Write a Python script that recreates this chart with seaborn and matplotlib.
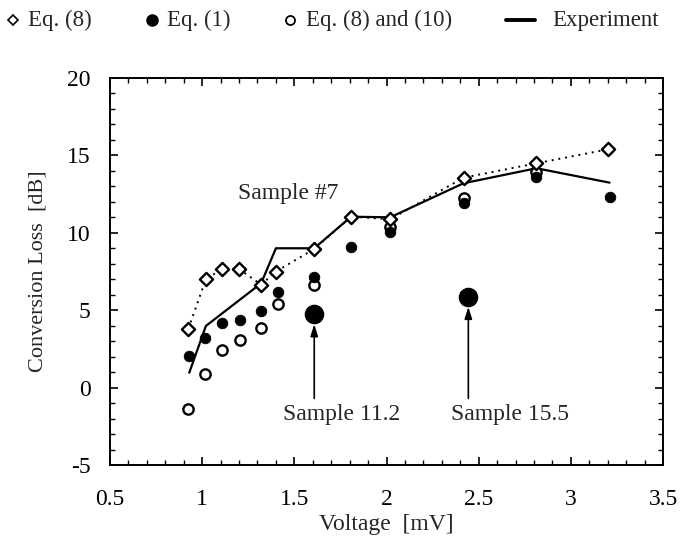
import matplotlib
matplotlib.use("Agg")
import matplotlib.pyplot as plt
from matplotlib.ticker import MultipleLocator
from matplotlib.lines import Line2D
import seaborn as sns
import pandas as pd

# Eq. (8) (open diamonds, dotted line)
eq8_v = [0.925, 1.02, 1.105, 1.20, 1.32, 1.40, 1.608, 1.808, 2.02, 2.418, 2.813, 3.20]
eq8_l = [3.8, 7.0, 7.64, 7.66, 6.65, 7.5, 8.95, 11.05, 10.87, 13.56, 14.49, 15.39]
# Eq. (1) (filled circles)
eq1_v = [0.93, 1.017, 1.105, 1.204, 1.32, 1.41, 1.608, 1.808, 2.02, 2.418, 2.813, 3.21]
eq1_l = [2.04, 3.22, 4.15, 4.37, 4.93, 6.18, 7.17, 9.06, 10.07, 11.9, 13.62, 12.33]
# Eq. (8) and (10) (open circles)
eq810_v = [0.925, 1.018, 1.107, 1.204, 1.32, 1.41, 1.608, 2.02, 2.418, 2.813]
eq810_l = [-1.40, 0.86, 2.43, 3.07, 3.85, 5.38, 6.63, 10.35, 12.23, 13.95]
# Experiment (solid line)
exp_v = [0.93, 1.02, 1.32, 1.40, 1.608, 1.808, 2.02, 2.418, 2.813, 3.21]
exp_l = [0.96, 3.98, 6.74, 9.0, 9.0, 11.04, 11.0, 13.2, 14.17, 13.24]
# Other samples (large filled dots)
samp_v = [1.608, 2.444]
samp_l = [4.75, 5.87]
samp_names = ["Sample 11.2", "Sample 15.5"]

x_ticks = [0.5, 1, 1.5, 2, 2.5, 3, 3.5]
x_tick_labels = ["0.5", "1", "1.5", "2", "2.5", "3", "3.5"]
y_ticks = [-5, 0, 5, 10, 15, 20]
y_tick_labels = ["-5", "0", "5", "10", "15", "20"]

sns.set_style("ticks")
plt.rcParams['font.family'] = ['Liberation Serif', 'DejaVu Serif']
plt.rcParams['axes.unicode_minus'] = False

W, H = 686, 542
fig = plt.figure(figsize=(W / 100, H / 100), dpi=100)
ax = fig.add_axes([110 / W, 1 - 465 / H, (663 - 110) / W, (465 - 78) / H])

d8 = pd.DataFrame({"v": eq8_v, "l": eq8_l})
d1 = pd.DataFrame({"v": eq1_v, "l": eq1_l})
d810 = pd.DataFrame({"v": eq810_v, "l": eq810_l})
dexp = pd.DataFrame({"v": exp_v, "l": exp_l})
dsamp = pd.DataFrame({"v": samp_v, "l": samp_l})

sns.lineplot(data=d8, x="v", y="l", ax=ax, color="black", lw=1.4,
             linestyle=(0, (1, 2.5)), sort=False, zorder=2)
sns.lineplot(data=dexp, x="v", y="l", ax=ax, color="black", lw=1.6,
             sort=False, zorder=3)
sns.scatterplot(data=d810, x="v", y="l", ax=ax, marker="o", s=55,
                facecolor="white", edgecolor="black", linewidth=1.7, zorder=4)
sns.scatterplot(data=d1, x="v", y="l", ax=ax, marker="o", s=58,
                color="black", edgecolor="black", zorder=5)
sns.scatterplot(data=d8, x="v", y="l", ax=ax, marker="D", s=45,
                facecolor="white", edgecolor="black", linewidth=1.7, zorder=6)
sns.scatterplot(data=dsamp, x="v", y="l", ax=ax, marker="o", s=170,
                color="black", edgecolor="black", zorder=5)

label_x = [1.755, 2.668]
for v, l, name, tx in zip(samp_v, samp_l, samp_names, label_x):
    ax.annotate("", xy=(v, l - 0.65), xytext=(v, -0.7),
                arrowprops=dict(arrowstyle="-|>,head_length=0.7,head_width=0.22",
                                color="black", lw=1.2, shrinkA=0, shrinkB=0))
    ax.text(tx, -1.75, name, ha="center", va="center", fontsize=17)
ax.text(1.467, 12.55, "Sample #7", ha="center", va="center", fontsize=17)

ax.set_xlim(0.5, 3.5)
ax.set_ylim(-5, 20)
ax.set_xticks(x_ticks)
ax.set_xticklabels(x_tick_labels)
ax.set_yticks(y_ticks)
ax.set_yticklabels(y_tick_labels)
ax.xaxis.set_minor_locator(MultipleLocator(0.1))
ax.yaxis.set_minor_locator(MultipleLocator(1))
ax.tick_params(which="both", direction="in", top=True, right=True,
               labelsize=17, colors="black")
ax.tick_params(axis="x", which="major", pad=17)
ax.tick_params(axis="y", which="major", pad=14)
ax.tick_params(which="major", length=6, width=1.2)
ax.tick_params(which="minor", length=3.5, width=1.0)
for sp in ax.spines.values():
    sp.set_visible(True)
    sp.set_linewidth(1.4)
    sp.set_color("black")

ax.set_xlabel("Voltage  [mV]", fontsize=17, labelpad=3)
ax.set_ylabel("Conversion Loss  [dB]", fontsize=16, labelpad=14)

# legend row at top (placed manually to match spacing)
ly = 1 - 20 / H
lb = 1 - 26 / H
leg_items = [
    (13, dict(marker="D", markersize=5, mfc="white", mec="black", mew=1.2), 28, "Eq. (8)"),
    (152, dict(marker="o", markersize=8, color="black"), 167, "Eq. (1)"),
    (290, dict(marker="o", markersize=6.5, mfc="white", mec="black", mew=1.3), 306, "Eq. (8) and (10)"),
]
for mx, mkw, tx, txt in leg_items:
    fig.add_artist(Line2D([mx / W], [ly], ls="none", transform=fig.transFigure, **mkw))
    fig.text(tx / W, lb, txt, ha="left", va="baseline", fontsize=16.5)
fig.add_artist(Line2D([506 / W, 535 / W], [ly, ly], color="black", lw=2.8,
                      transform=fig.transFigure))
fig.text(552 / W, lb, "Experiment", ha="left", va="baseline", fontsize=16.5)

fig.savefig("out.png", dpi=100)
